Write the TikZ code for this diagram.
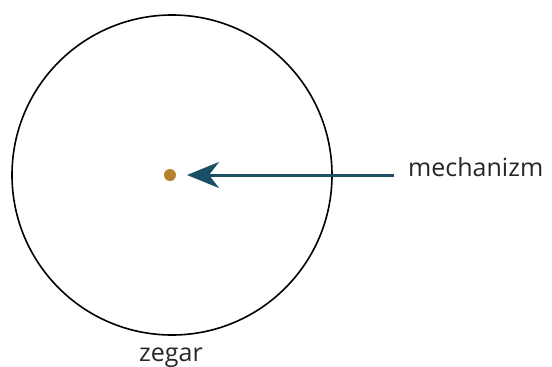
\documentclass[tikz,border=0pt]{standalone}
\usepackage{fontspec}
\setmainfont{Open Sans}
\usetikzlibrary{arrows.meta}
\definecolor{dotbrown}{HTML}{B7802F}
\definecolor{arrowteal}{HTML}{1B4F63}
\begin{document}
\begin{tikzpicture}[x=1pt,y=-1pt,
  lbl/.style={font=\fontsize{25}{28}\selectfont, text=black!85, inner sep=0pt},
  pointer/.style={arrowteal, line width=3pt, -{Stealth[length=32pt,width=26pt,inset=10pt]}}]
\useasboundingbox (0,0) rectangle (552,367);
\node[draw=black, line width=1.6pt, circle, minimum size=320pt, inner sep=0pt] (clock) at (172,175) {};
\node[circle, fill=dotbrown, minimum size=12pt, inner sep=0pt] (mech) at (170,175) {};
\coordinate (tip) at (187,175);
\coordinate (start) at (394,175);
\node[lbl, anchor=base west] (mlabel) at (408,176) {mechanizm};
\node[lbl, anchor=base] (zlabel) at (171,361) {zegar};
\draw[pointer] (start) -- (tip);
\end{tikzpicture}
\end{document}
